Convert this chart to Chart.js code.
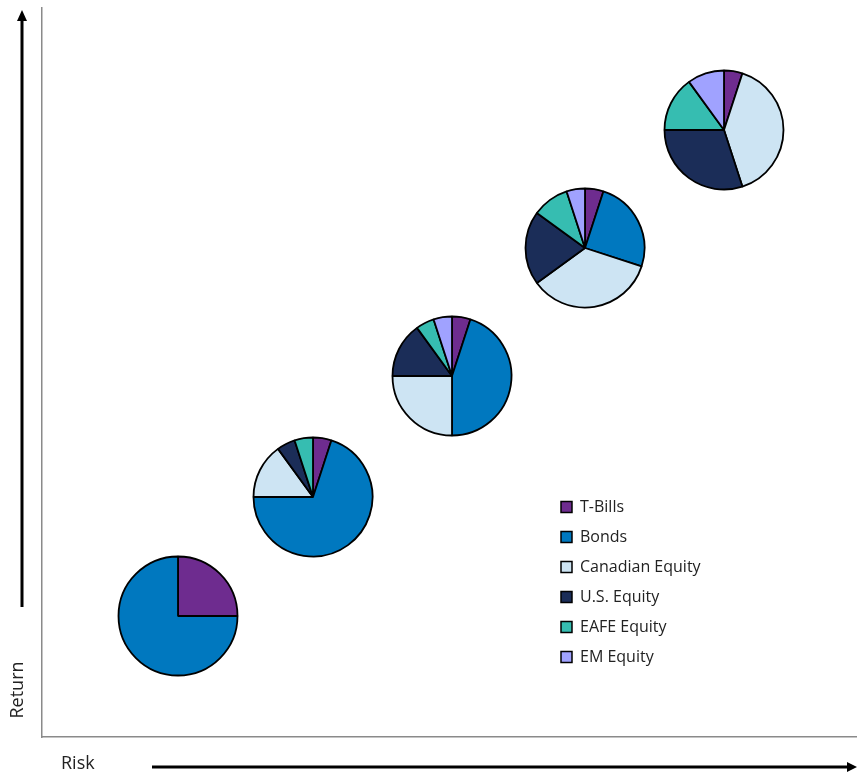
<!DOCTYPE html>
<html>
<head>
<meta charset="utf-8">
<script src="https://cdn.jsdelivr.net/npm/chart.js@4.4.1/dist/chart.umd.min.js"></script>
<style>
  body { margin: 0; background: #fff; }
  #wrap { position: relative; width: 857px; height: 774px; }
  #wrap canvas { position: absolute; }
</style>
</head>
<body>
<div id="wrap">
  <canvas id="frame" width="857" height="774" style="left:0;top:0"></canvas>
  <canvas id="legendBox" width="300" height="210" style="left:547px;top:485px"></canvas>
</div>
<script>
// asset classes and their colours
const assetClasses = ['T-Bills', 'Bonds', 'Canadian Equity', 'U.S. Equity', 'EAFE Equity', 'EM Equity'];
const assetColors = ['#6E2C8F', '#0078BF', '#CDE4F3', '#1B2D58', '#36BDB1', '#A0A2FF'];

// five portfolios, from lowest to highest risk
const riskLevel = [2.0, 4.0, 6.05, 8.0, 10.05];
const returnLevel = [2.0, 3.95, 5.95, 8.05, 10.0];

// weight (%) of each asset class in each portfolio
const tBills = [25, 5, 5, 5, 5];
const bonds = [75, 70, 45, 25, 0];
const canadianEquity = [0, 15, 25, 35, 40];
const usEquity = [0, 5, 15, 20, 30];
const eafeEquity = [0, 5, 5, 10, 15];
const emEquity = [0, 0, 5, 5, 10];

const weights = [tBills, bonds, canadianEquity, usEquity, eafeEquity, emEquity];
const FONT = "'Open Sans', 'DejaVu Sans', sans-serif";

// arrows and axis names
const decorations = {
	id: 'decorations',
	afterDraw(chart) {
		const ctx = chart.ctx;
		ctx.save();
		ctx.strokeStyle = '#000';
		ctx.fillStyle = '#000';
		ctx.lineWidth = 3;
		ctx.beginPath();
		ctx.moveTo(22, 607);
		ctx.lineTo(22, 20);
		ctx.moveTo(152, 767);
		ctx.lineTo(849, 767);
		ctx.stroke();
		ctx.beginPath();
		ctx.moveTo(22, 10);
		ctx.lineTo(17, 21);
		ctx.lineTo(27, 21);
		ctx.closePath();
		ctx.fill();
		ctx.beginPath();
		ctx.moveTo(857, 767);
		ctx.lineTo(847, 762);
		ctx.lineTo(847, 772);
		ctx.closePath();
		ctx.fill();

		ctx.fillStyle = '#222';
		ctx.font = '18px ' + FONT;
		ctx.textBaseline = 'middle';
		ctx.textAlign = 'left';
		ctx.fillText('Risk', 61, 764);
		ctx.translate(18, 690);
		ctx.rotate(-Math.PI / 2);
		ctx.textAlign = 'center';
		ctx.fillText('Return', 0, 0);
		ctx.restore();
	}
};

const frame = new Chart(document.getElementById('frame'), {
	type: 'scatter',
	data: {
		datasets: [{
			data: riskLevel.map((r, i) => ({x: r, y: returnLevel[i]})),
			pointRadius: 0
		}]
	},
	options: {
		responsive: false,
		animation: false,
		events: [],
		layout: {
			padding: {left: 42, top: 8, right: 1, bottom: 37}
		},
		scales: {
			x: {
				min: 0,
				max: 12,
				ticks: {display: false},
				grid: {display: false, drawTicks: false},
				border: {display: true, color: '#8a8a8a', width: 1.5}
			},
			y: {
				min: 0,
				max: 12,
				ticks: {display: false},
				grid: {display: false, drawTicks: false},
				border: {display: true, color: '#8a8a8a', width: 1.5}
			}
		},
		plugins: {
			legend: {display: false},
			tooltip: {enabled: false}
		}
	},
	plugins: [decorations]
});

// one pie per portfolio, centred on its risk/return point
const wrap = document.getElementById('wrap');
const PIE = 130;
riskLevel.forEach((r, i) => {
	const cx = frame.scales.x.getPixelForValue(r);
	const cy = frame.scales.y.getPixelForValue(returnLevel[i]);
	const c = document.createElement('canvas');
	c.width = PIE;
	c.height = PIE;
	c.style.left = (cx - PIE / 2) + 'px';
	c.style.top = (cy - PIE / 2) + 'px';
	wrap.appendChild(c);
	new Chart(c, {
		type: 'pie',
		data: {
			labels: assetClasses,
			datasets: [{
				data: weights.map(w => w[i]),
				backgroundColor: assetColors,
				borderColor: '#000',
				borderWidth: 1.8,
				radius: 59.5,
				hoverOffset: 0
			}]
		},
		options: {
			responsive: false,
			animation: false,
			events: [],
			layout: {padding: 0},
			plugins: {
				legend: {display: false},
				tooltip: {enabled: false}
			}
		}
	});
});

// legend
new Chart(document.getElementById('legendBox'), {
	type: 'bar',
	data: {
		labels: [],
		datasets: assetClasses.map((name, i) => ({
			label: name,
			data: [],
			backgroundColor: assetColors[i],
			borderColor: '#000',
			borderWidth: 1.5
		}))
	},
	options: {
		responsive: false,
		animation: false,
		events: [],
		layout: {padding: 0},
		scales: {
			x: {display: false},
			y: {display: false}
		},
		plugins: {
			tooltip: {enabled: false},
			legend: {
				position: 'left',
				align: 'start',
				maxWidth: 260,
				labels: {
					boxWidth: 11,
					boxHeight: 11,
					padding: 14,
					color: '#222',
					font: {family: FONT, size: 16}
				}
			}
		}
	}
});
</script>
</body>
</html>
